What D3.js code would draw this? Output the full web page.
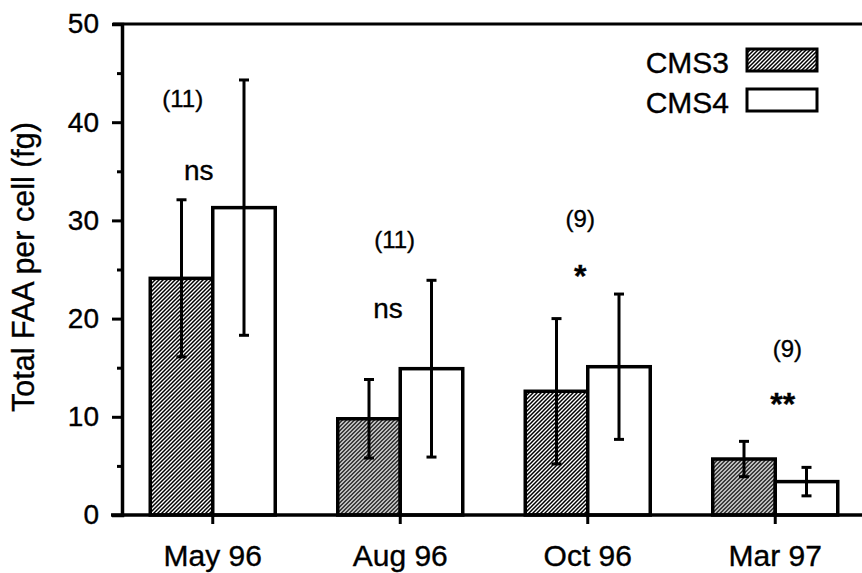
<!DOCTYPE html>
<html>
<head>
<meta charset="utf-8">
<script src="https://cdn.jsdelivr.net/npm/d3@7"></script>
<style>
  html, body { margin: 0; padding: 0; background: #fff; }
  svg { display: block; font-family: "Liberation Sans", Arial, Helvetica, sans-serif; }
  text { stroke: #000; stroke-width: 0.35px; fill: #000; }
</style>
</head>
<body>
<svg id="chart" width="862" height="573"></svg>
<script>
// ---- data ----
const categories = ["May 96", "Aug 96", "Oct 96", "Mar 97"];
const seriesNames = ["CMS3", "CMS4"];
const cms3Mean = [24.1, 9.8, 12.6, 5.7];
const cms3Err  = [8.0, 4.0, 7.4, 1.8];
const cms4Mean = [31.3, 14.9, 15.1, 3.4];
const cms4Err  = [13.0, 9.0, 7.4, 1.45];
const yTicks = [0, 10, 20, 30, 40, 50];
const yMinorTicks = [5, 15, 25, 35, 45];
const annotText = ["(11)", "ns", "(11)", "ns", "(9)", "*", "(9)", "**"];
const annotCat  = ["May 96", "May 96", "Aug 96", "Aug 96", "Oct 96", "Oct 96", "Mar 97", "Mar 97"];
const annotY    = [41.5, 34.1, 27.2, 20.1, 29.3, 23.6, 16.1, 10.6];
const annotShift = [-0.16, -0.075, -0.03, -0.065, -0.04, -0.04, 0.065, 0.04];
const yLabel = "Total FAA per cell (fg)";

// ---- layout ----
const svg = d3.select("#chart");
const W = 862;
const axisX = 122;
const y = d3.scaleLinear().domain([0, 50]).range([515, 24]);
const x = d3.scaleBand().domain(categories).range([119, 869]).padding(0);
const xs = d3.scaleBand().domain(seriesNames).range([0, x.bandwidth()]).paddingInner(0).paddingOuter(0.5);

// hatch pattern
const defs = svg.append("defs");
const pat = defs.append("pattern")
  .attr("id", "hatch").attr("patternUnits", "userSpaceOnUse")
  .attr("width", 4).attr("height", 4);
pat.append("rect").attr("width", 4).attr("height", 4).attr("fill", "#fff");
pat.append("path")
  .attr("d", "M-1,1 l2,-2 M0,4 l4,-4 M3,5 l2,-2")
  .attr("stroke", "#000").attr("stroke-width", 1.5);

const fills = { CMS3: "url(#hatch)", CMS4: "#fff" };

const rows = categories.map((c, i) => ({
  cat: c,
  vals: [
    { s: "CMS3", v: cms3Mean[i], e: cms3Err[i] },
    { s: "CMS4", v: cms4Mean[i], e: cms4Err[i] }
  ]
}));

// bars
const g = svg.append("g");
const groups = g.selectAll("g.cat").data(rows).join("g")
  .attr("transform", d => `translate(${x(d.cat)},0)`);
groups.selectAll("rect").data(d => d.vals).join("rect")
  .attr("x", d => xs(d.s))
  .attr("y", d => y(d.v))
  .attr("width", xs.bandwidth())
  .attr("height", d => y(0) - y(d.v))
  .attr("fill", d => fills[d.s])
  .attr("stroke", "#000").attr("stroke-width", 3.5);

// error bars
const capW = 5;
const eb = groups.selectAll("g.eb").data(d => d.vals).join("g")
  .attr("transform", d => `translate(${xs(d.s) + xs.bandwidth() / 2},0)`)
  .attr("stroke", "#000").attr("stroke-width", 3);
eb.append("line").attr("x1", 0).attr("x2", 0)
  .attr("y1", d => y(d.v + d.e)).attr("y2", d => y(d.v - d.e));
eb.append("line").attr("x1", -capW).attr("x2", capW)
  .attr("y1", d => y(d.v + d.e)).attr("y2", d => y(d.v + d.e));
eb.append("line").attr("x1", -capW).attr("x2", capW)
  .attr("y1", d => y(d.v - d.e)).attr("y2", d => y(d.v - d.e));

// frame lines: top and bottom
svg.append("line").attr("x1", 113).attr("x2", W).attr("y1", y(50)).attr("y2", y(50))
  .attr("stroke", "#000").attr("stroke-width", 3);
svg.append("line").attr("x1", 111).attr("x2", W).attr("y1", y(0)).attr("y2", y(0))
  .attr("stroke", "#000").attr("stroke-width", 3.5);

// y axis
const yAxis = d3.axisLeft(y).tickValues(yTicks).tickSize(10).tickPadding(13);
const ya = svg.append("g").attr("transform", `translate(${axisX},0)`).call(yAxis);
ya.select(".domain").attr("stroke-width", 3.5);
ya.selectAll(".tick line").attr("stroke-width", 3);
ya.selectAll(".tick text").attr("font-size", 28)
  .attr("font-family", "Liberation Sans, Arial, sans-serif");
const yMinor = d3.axisLeft(y).tickValues(yMinorTicks).tickSize(5).tickFormat("");
svg.append("g").attr("transform", `translate(${axisX},0)`).call(yMinor)
  .call(s => s.select(".domain").remove())
  .selectAll(".tick line").attr("stroke-width", 3);

// x axis
const xAxis = d3.axisBottom(x).tickSize(9).tickPadding(21).tickSizeOuter(0);
const xa = svg.append("g").attr("transform", `translate(0,${y(0)})`).call(xAxis);
xa.select(".domain").remove();
xa.selectAll(".tick line").attr("stroke-width", 3);
xa.selectAll(".tick text").attr("font-size", 30)
  .attr("font-family", "Liberation Sans, Arial, sans-serif");

// y label
svg.append("text")
  .attr("transform", `translate(34,${267}) rotate(-90)`)
  .attr("text-anchor", "middle")
  .attr("font-size", 30.5)
  .text(yLabel);

// annotations
const annots = annotText.map((t, i) => ({ t, c: annotCat[i], v: annotY[i], s: annotShift[i] }));
svg.selectAll("text.annot").data(annots).join("text")
  .attr("class", "annot")
  .attr("x", d => x(d.c) + x.bandwidth() / 2 + d.s * x.bandwidth())
  .attr("y", d => d.t.startsWith("*") ? y(d.v) + 4 : y(d.v))
  .attr("text-anchor", "middle")
  .attr("font-size", d => d.t.startsWith("(") ? 24 : (d.t.startsWith("*") ? 32 : 28))
  .attr("font-weight", d => d.t.startsWith("*") ? "bold" : "normal")
  .text(d => d.t);

// legend
const legend = svg.append("g");
const legY = d3.scaleBand().domain(seriesNames).range([45, 125]).padding(0);
seriesNames.forEach(s => {
  const yy = legY(s);
  legend.append("rect")
    .attr("x", 747).attr("y", yy + 4)
    .attr("width", 70).attr("height", 22)
    .attr("fill", fills[s]).attr("stroke", "#000").attr("stroke-width", 3);
  legend.append("text")
    .attr("x", 729).attr("y", yy + 28)
    .attr("text-anchor", "end")
    .attr("font-size", 30)
    .text(s);
});
</script>
</body>
</html>
